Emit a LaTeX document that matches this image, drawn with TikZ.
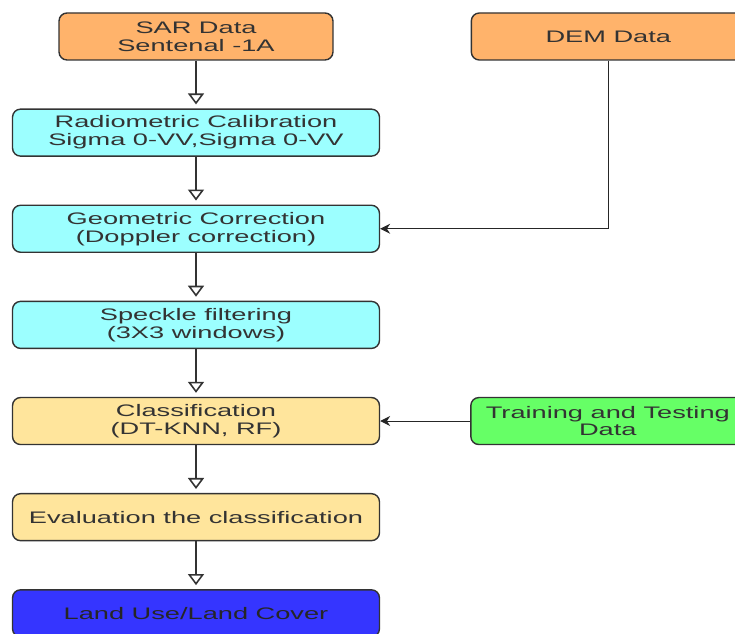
\documentclass[tikz,border=0pt]{standalone}
\usepackage{fontspec}
\setmainfont{Liberation Sans}[FakeStretch=1.63]
\usetikzlibrary{arrows.meta, positioning}
\definecolor{srcorange}{HTML}{FFB36B}
\definecolor{proccyan}{HTML}{9CFFFF}
\definecolor{clsyellow}{HTML}{FFE59C}
\definecolor{trngreen}{HTML}{66FF66}
\definecolor{lulcblue}{HTML}{3535FF}
\definecolor{edgegray}{HTML}{333333}

\begin{document}
\begin{tikzpicture}[>=Stealth, x=0.02cm, y=-0.02cm, node distance=0.955cm,
  box/.style={draw=edgegray, line width=0.8pt, rounded corners=0.16cm, align=center,
    minimum width=7.34cm, minimum height=0.94cm, inner sep=0pt, text=edgegray,
    font=\fontsize{9.5}{10.2}\selectfont},
  srcbox/.style={box, minimum width=5.48cm},
  flow/.style={draw=edgegray, line width=0.9pt,
    -{Triangle[open, width=0.32cm, length=0.22cm]}, shorten >=0.08cm},
  feed/.style={draw=black!85, line width=0.6pt, -{Stealth[width=0.2cm, length=0.2cm]}}]

\useasboundingbox (0,0) rectangle (735,634);
\clip (0,0) rectangle (735,634);

% Main chain
\node[srcbox, fill=srcorange] (sar) at (196,36.5) {SAR Data\\Sentenal -1A};
\node[box, fill=proccyan, below=of sar] (rad) {Radiometric Calibration\\Sigma 0-VV,Sigma 0-VV};
\node[box, fill=proccyan, below=of rad] (geo) {Geometric Correction\\(Doppler correction)};
\node[box, fill=proccyan, below=of geo] (spk) {Speckle filtering\\(3X3 windows)};
\node[box, fill=clsyellow, below=of spk] (cls) {Classification\\(DT-KNN, RF)};
\node[box, fill=clsyellow, below=of cls] (eval) {Evaluation the classification};
\node[box, fill=lulcblue, text=black!85, below=of eval] (lulc) {Land Use/Land Cover};

% Side inputs
\node[srcbox, fill=srcorange, right=2.74cm of sar] (dem) {DEM Data};
\node[srcbox, fill=trngreen, right=1.8cm of cls] (trn) {Training and Testing\\Data};

% Connectors
\draw[flow] (sar) -- (rad);
\draw[flow] (rad) -- (geo);
\draw[flow] (geo) -- (spk);
\draw[flow] (spk) -- (cls);
\draw[flow] (cls) -- (eval);
\draw[flow] (eval) -- (lulc);
\draw[feed] (dem.south) |- (geo.east);
\draw[feed] (trn) -- (cls);

\end{tikzpicture}
\end{document}
